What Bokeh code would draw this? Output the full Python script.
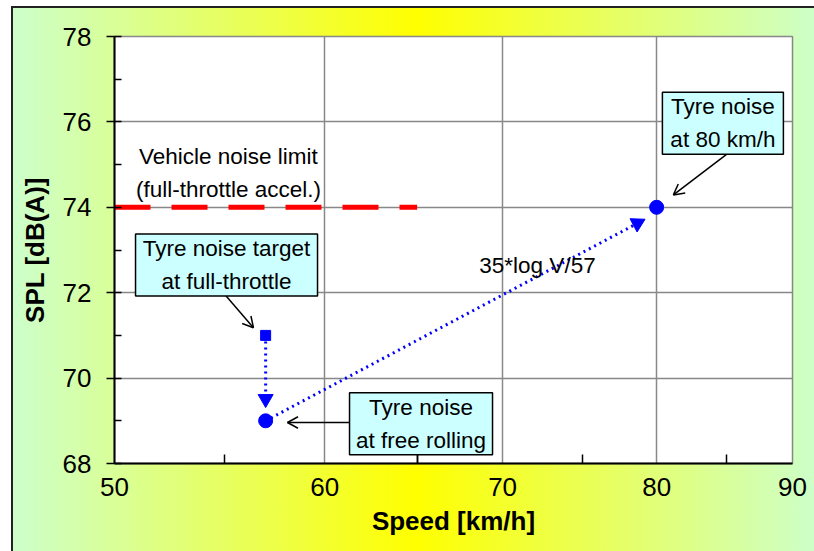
import math
from bokeh.plotting import figure
from bokeh.models import Range1d, FixedTicker, SingleIntervalTicker, BasicTickFormatter
from bokeh.core.properties import value
from bokeh.embed import file_html
from bokeh.resources import INLINE

# ---------------- data ----------------
x_major_ticks = [50, 60, 70, 80, 90]
x_minor_ticks = [55, 65, 75, 85]
x_grid_ticks = [60, 70, 80]

limit_speed = [50, 65]          # vehicle noise limit (full-throttle accel.)
limit_spl = [74, 74]

circle_speed = [57, 80]         # tyre noise at free rolling / at 80 km/h
circle_spl = [69, 74]
square_speed = [57]             # tyre noise target at full-throttle
square_spl = [71]

# dotted blue trend arrows: start -> arrow tip
trend_x0 = [57, 57]
trend_y0 = [71, 69]
trend_x1 = [57, 79.2]
trend_y1 = [69.31, 73.72]

# callouts
box_x = [55.1, 65.22, 84.73]
box_y = [72.65, 68.93, 75.97]
box_text = ["Tyre noise target\nat full-throttle",
            "Tyre noise\nat free rolling",
            "Tyre noise\nat 80 km/h"]
lead_x0 = [55.07, 61.3, 85.0]
lead_y0 = [71.93, 68.96, 75.24]
lead_x1 = [56.40, 58.09, 81.17]
lead_y1 = [71.18, 68.96, 74.29]
stub_x = [65.02, 65.02]
stub_y = [68.21, 68.0]

limit_label_x = [55.19]
limit_label_y = [74.8]
limit_label = ["Vehicle noise limit\n(full-throttle accel.)"]
formula_x = [68.6]
formula_y = [72.63]
formula_label = ["35*log V/57"]

FONT = "Liberation Sans"
W, H = 814, 551
BL, BR, BT, BB = 114, 22, 36, 88
FW, FH = W - BL - BR, H - BT - BB
X0, X1, Y0, Y1 = 50, 90, 68, 78


def to_px(x, y):
    return (FW * math.log(x / X0) / math.log(X1 / X0), FH * (y - Y0) / (Y1 - Y0))


def to_data(px, py):
    return (X0 * math.exp(px / FW * math.log(X1 / X0)), Y0 + py / FH * (Y1 - Y0))


p = figure(width=W, height=H, x_axis_type="log",
           x_range=Range1d(X0, X1), y_range=Range1d(Y0, Y1),
           output_backend="svg", toolbar_location=None,
           min_border_left=BL, min_border_right=BR, min_border_top=BT, min_border_bottom=BB)

p.styles = {
    "background":
        "linear-gradient(#222, #222) 11px 6px / 2px 100% no-repeat, "
        "linear-gradient(#222, #222) 11px 6px / 100% 2px no-repeat, "
        "linear-gradient(to right, #ccffcc 0%, #ffff00 50%, #ccffcc 100%) 11px 6px / 812px 100% no-repeat, "
        "white",
}
p.border_fill_color = None
p.background_fill_color = "white"
p.outline_line_color = "#888888"
p.outline_line_width = 1.5

# axes
p.xaxis.ticker = FixedTicker(ticks=x_major_ticks, minor_ticks=x_minor_ticks)
p.xaxis.formatter = BasicTickFormatter()
p.xaxis.major_tick_in = 0
p.xaxis.major_tick_out = 0
p.xaxis.minor_tick_in = 9
p.xaxis.minor_tick_out = 0
p.xaxis.major_label_standoff = 14
p.xaxis.axis_label = "Speed [km/h]"
p.xaxis.axis_label_standoff = 7

p.yaxis.ticker = SingleIntervalTicker(interval=2, num_minor_ticks=2)
p.yaxis.major_tick_in = 0
p.yaxis.major_tick_out = 8
p.yaxis.minor_tick_in = 7
p.yaxis.minor_tick_out = 0
p.yaxis.major_label_standoff = 15
p.yaxis.axis_label = "SPL [dB(A)]"
p.yaxis.axis_label_standoff = 10

for ax in (p.xaxis, p.yaxis):
    ax.axis_line_color = "black"
    ax.axis_line_width = 2
    ax.major_tick_line_color = "black"
    ax.major_tick_line_width = 1.5
    ax.minor_tick_line_color = "black"
    ax.minor_tick_line_width = 1.5
    ax.major_label_text_font = FONT
    ax.major_label_text_font_size = "26px"
    ax.major_label_text_color = "black"
    ax.axis_label_text_font = FONT
    ax.axis_label_text_font_size = "26px"
    ax.axis_label_text_font_style = "bold"
    ax.axis_label_text_color = "black"

p.xgrid.ticker = FixedTicker(ticks=x_grid_ticks)
p.ygrid.ticker = SingleIntervalTicker(interval=2)
for g in (p.xgrid, p.ygrid):
    g.grid_line_color = "#888888"
    g.grid_line_width = 1.5

# vehicle noise limit
p.line(limit_speed, limit_spl, line_color="#ff0000", line_width=5, line_dash="36 21")

# dotted trend arrows: line to the head centre, filled triangle head
TRI = 15
tip_off = TRI / 2 * math.sqrt(3) * 2 / 3
head_x, head_y, head_a = [], [], []
for xs, ys, xe, ye in zip(trend_x0, trend_y0, trend_x1, trend_y1):
    sx, sy = to_px(xs, ys)
    ex, ey = to_px(xe, ye)
    ang = math.atan2(ey - sy, ex - sx)
    cx, cy = ex - tip_off * math.cos(ang), ey - tip_off * math.sin(ang)
    dx, dy = to_data(cx, cy)
    head_x.append(dx)
    head_y.append(dy)
    head_a.append(ang - math.pi / 2)
p.segment(x0=trend_x0, y0=trend_y0, x1=head_x, y1=head_y,
          line_color="#0000ff", line_width=3, line_dash="2 4")
p.scatter(head_x, head_y, marker="triangle", size=TRI, angle=head_a,
          fill_color="#0000ff", line_color="#0000ff")

# markers
p.scatter(circle_speed, circle_spl, marker="circle", size=14, color="#0000ff")
p.scatter(square_speed, square_spl, marker="square", size=10, color="#0000ff")

# leaders with open heads
p.segment(x0=lead_x0, y0=lead_y0, x1=lead_x1, y1=lead_y1, line_color="black", line_width=1.5)
ray_x, ray_y, ray_a = [], [], []
for xs, ys, xe, ye in zip(lead_x0, lead_y0, lead_x1, lead_y1):
    sx, sy = to_px(xs, ys)
    ex, ey = to_px(xe, ye)
    back = math.atan2(sy - ey, sx - ex)
    for d in (-0.5, 0.5):
        ray_x.append(xe)
        ray_y.append(ye)
        ray_a.append(back + d)
p.ray(x=ray_x, y=ray_y, length=12, length_units="screen", angle=ray_a,
      line_color="black", line_width=1.5)
p.line(stub_x, stub_y, line_color="black", line_width=1.5)

# callout boxes
p.rect(x=box_x, y=box_y, width=[182, 143, 121], height=62,
       width_units="screen", height_units="screen",
       fill_color="#ccffff", line_color="black", line_width=1.5)
p.text(x=box_x, y=box_y, text=box_text, text_align="center", text_baseline="middle",
       text_font=value(FONT), text_font_size="22.5px", text_line_height=1.33, text_color="black")

p.text(x=limit_label_x, y=limit_label_y, text=limit_label, text_align="center", text_baseline="middle",
       text_font=value(FONT), text_font_size="22.5px", text_line_height=1.33, text_color="black")
p.text(x=formula_x, y=formula_y, text=formula_label, text_align="left", text_baseline="middle",
       text_font=value(FONT), text_font_size="22.5px", text_color="black")

open("out.html", "w").write(file_html(p, INLINE))
